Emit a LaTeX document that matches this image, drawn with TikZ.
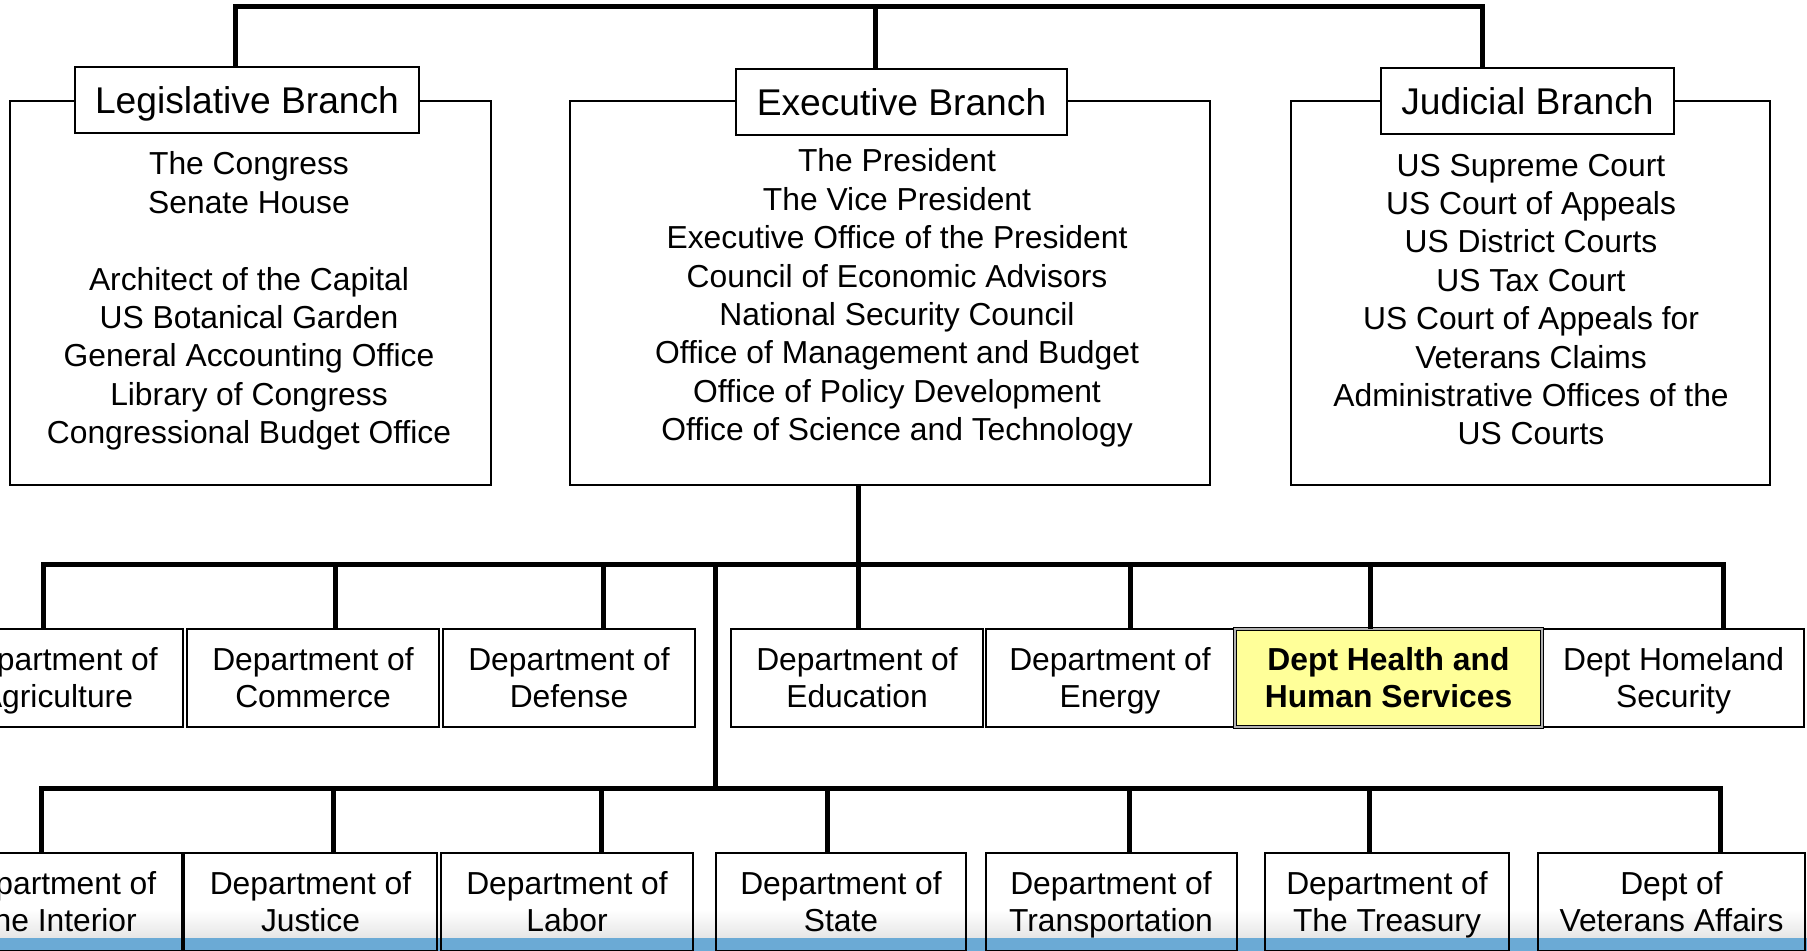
\documentclass[tikz,border=0pt]{standalone}
\usepackage{fontspec}
\setmainfont{Liberation Sans}
\definecolor{hhsyellow}{HTML}{FFFF99}
\definecolor{stripblue}{HTML}{6BAAD5}
% keeps the two text lines of a department box at the same height
\newcommand{\deptgap}{\rule{0pt}{0.95em}}
\begin{document}
\begin{tikzpicture}[x=0.5pt, y=-0.5pt,
  bus/.style={line width=2.5pt},
  branch box/.style={draw, line width=1pt, minimum height=192pt, inner sep=0pt},
  branch title/.style={draw, line width=1pt, fill=white, minimum height=33pt, inner sep=0pt,
    text depth=0pt, font=\fontsize{18.6}{22}\selectfont},
  members/.style={align=center, inner sep=0pt, font=\fontsize{15.9}{19.2}\selectfont},
  dept/.style={draw, line width=1pt, minimum height=49pt, inner sep=0pt, align=center,
    font=\fontsize{15.9}{18.5}\selectfont,
    execute at end node={\rule[-0.23em]{0pt}{0.23em}}},
  dept highlight/.style={dept, fill=hhsyellow, line width=0.5pt, double=gray!60, double distance=0.8pt,
    font=\fontsize{15.9}{18.5}\selectfont\bfseries}]
\useasboundingbox (0,0) rectangle (1807,951);
\clip (0,0) rectangle (1807,951);

% footer band behind the lower row
\shade[top color=white, bottom color=black!10] (0,910) rectangle (1807,938);
\fill[stripblue] (0,938) rectangle (1807,951);

% the three branches
\node[branch box, minimum width=240.5pt] (leg) at (250.5,293) {};
\node[branch box, minimum width=320pt] (exe) at (890,293) {};
\node[branch box, minimum width=239.5pt] (jud) at (1530.5,293) {};
\node[branch title, minimum width=172pt] (legt) at (247,100) {Legislative Branch};
\node[branch title, minimum width=165.5pt] (exet) at (901.5,102) {Executive Branch};
\node[branch title, minimum width=146.5pt] (judt) at (1527.5,101.5) {Judicial Branch};

\node[members] (legm) at (249,301) {The Congress\\Senate House\\[19.2pt]Architect of the Capital\\
  US Botanical Garden\\General Accounting Office\\Library of Congress\\Congressional Budget Office};
\node[members] (exem) at (897,298) {The President\\The Vice President\\Executive Office of the President\\
  Council of Economic Advisors\\National Security Council\\Office of Management and Budget\\
  Office of Policy Development\\Office of Science and Technology};
\node[members] (judm) at (1531,299.5) {US Supreme Court\\US Court of Appeals\\US District Courts\\US Tax Court\\
  US Court of Appeals for\\Veterans Claims\\Administrative Offices of the\\US Courts};

\coordinate (top) at (875,7);
\draw[bus] ([xshift=-6pt]legt.north) |- (top) -| ([xshift=-22.75pt]judt.north);
\draw[bus] (top) -- (top |- exet.north);

% departments, first row
\foreach \n/\cx/\w/\off/\t in {agr/57/126/-7/{Department of\\Agriculture},
    com/313/126/11/{Department of\\Commerce}, def/569/126.25/17/{Department of\\Defense},
    edu/857/126/0.5/{Department of\\Education}, ene/1110/124/10/{Department of\\Energy},
    hom/1673.5/130.5/24.75/{Dept Homeland\\Security}}{
  \node[dept, minimum width=\w pt] (\n) at (\cx,678) {\deptgap\t};
  \draw[bus] ([xshift=\off pt]\n.north) -- ++(0,-64);
}
\node[dept highlight, minimum width=153.5pt] (hhs) at (1388.5,678) {\deptgap Dept Health and\\Human Services};
\draw[bus] ([xshift=-9.25pt]hhs.north) -- ++(0,-64);
\draw[bus] ([xshift=-7pt]agr.north) -- ++(0,-64) -| ([xshift=24.75pt]hom.north);
\draw[bus] ([xshift=-15.75pt]exe.south) -- ++(0,80);

% departments, second row
\coordinate (split) at (715,565);
\draw[bus] (split) -- ++(0,224);
\foreach \n/\cx/\w/\off/\t in {int/55.5/126/-7/{Department of\\The Interior},
    jus/310.5/126.5/11.25/{Department of\\Justice}, lab/567/126/17.25/{Department of\\Labor},
    sta/841/125/-7/{Department of\\State}, tra/1111/125.5/9/{Department of\\Transportation},
    tre/1387/122/-9/{Department of\\The Treasury}, vet/1671.5/133.5/24.5/{Dept of\\Veterans Affairs}}{
  \node[dept, minimum width=\w pt] (\n) at (\cx,902) {\deptgap\t};
  \draw[bus] ([xshift=\off pt]\n.north) -- ++(0,-64);
}
\draw[bus] ([xshift=-7pt]int.north) -- ++(0,-64) -| ([xshift=24.5pt]vet.north);
\end{tikzpicture}
\end{document}
